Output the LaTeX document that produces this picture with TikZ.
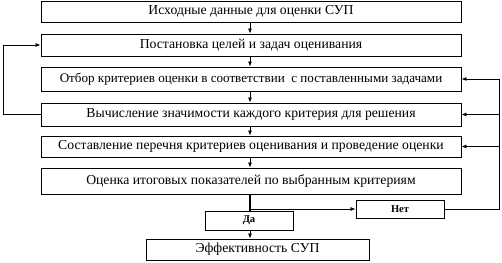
\documentclass[tikz,border=0pt]{standalone}
\usepackage{fontspec}
\setmainfont{Liberation Serif}
\usetikzlibrary{arrows.meta}
\begin{document}
\begin{tikzpicture}[x=1pt,y=-1pt,
  box/.style={draw,line width=0.9pt,minimum width=420pt,inner sep=0pt,font=\fontsize{13.7}{15}\selectfont},
  small/.style={draw,line width=0.9pt,inner sep=0pt,font=\bfseries\fontsize{10.5}{11}\selectfont},
  arr/.style={-{Latex[length=5pt,width=4pt]},line width=0.8pt},
  ln/.style={line width=0.8pt}]
\useasboundingbox (0,0) rectangle (502,262);
\coordinate (cx) at (250,0);
\node[box,minimum height=21pt] (b1) at (251,11.5) {Исходные данные для оценки СУП};
\node[box,minimum height=22pt] (b2) at (251,45) {Постановка целей и задач оценивания};
\node[box,minimum height=24pt,font=\fontsize{13.1}{15}\selectfont] (b3) at (251,79) {Отбор критериев оценки в соответствии\ \ с поставленными задачами};
\node[box,minimum height=23pt] (b4) at (251,114.5) {Вычисление значимости каждого критерия для решения};
\node[box,minimum height=21pt] (b5) at (251,146.5) {Составление перечня критериев оценивания и проведение оценки};
\node[box,minimum height=26pt] (b6) at (251,181) {Оценка итоговых показателей по выбранным критериям};
\node[small,minimum width=88pt,minimum height=19pt] (da) at (249,220.5) {Да};
\node[small,minimum width=88pt,minimum height=18pt] (net) at (400,209) {Нет};
\node[box,minimum width=223pt,minimum height=21pt] (eff) at (257.5,249.5) {Эффективность СУП};
\coordinate (r3) at (499,79);
\coordinate (l4) at (3,114.5);
\draw[arr] (b1.south -| cx) -- (b2.north -| cx);
\draw[arr] (b2.south -| cx) -- (b3.north -| cx);
\draw[arr] (b3.south -| cx) -- (b4.north -| cx);
\draw[arr] (b4.south -| cx) -- (b5.north -| cx);
\draw[arr] (b5.south -| cx) -- (b6.north -| cx);
\draw[line width=1.6pt] (b6.south -| cx) -- (da.north -| cx);
\draw[arr] (b6.south -| cx) |- (net.west);
\draw[arr] (da.south -| cx) -- (eff.north -| cx);
\draw[ln] (net.east) -| (r3);
\draw[arr] (r3) -- (b3.east);
\draw[arr] (r3 |- b4.east) -- (b4.east);
\draw[arr] (r3 |- b5.east) -- (b5.east);
\draw[arr] (b4.west) -- (l4) |- (b2.west);
\end{tikzpicture}
\end{document}
